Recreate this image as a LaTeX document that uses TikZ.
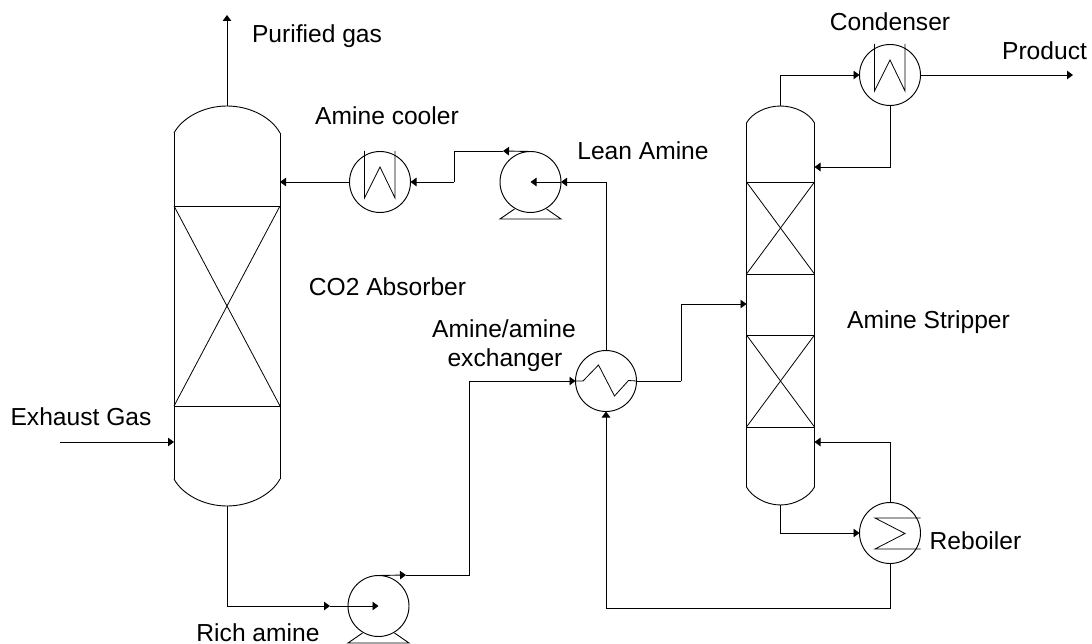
\documentclass[tikz,border=0pt]{standalone}
\usepackage{fontspec}
\setmainfont{Liberation Sans}
\usetikzlibrary{arrows.meta,calc}
\tikzset{
  x=1pt,y=-1pt,
  every path/.style={line width=0.9pt,color=black},
  flow/.style={-{Triangle[length=6pt,width=8.5pt]}},
  unit/.style={circle,draw,line width=0.95pt,minimum size=61pt,inner sep=0pt,outer sep=0pt},
  shell/.style={rectangle,inner sep=0pt,outer sep=0pt},
  packing/.style={rectangle,draw,line width=0.9pt,inner sep=0pt,outer sep=0pt},
  tag/.style={font=\fontsize{24.6}{29}\selectfont,inner sep=0pt,outer sep=0pt,text=black,anchor=base},
  thin part/.style={line width=0.8pt}
}
\newcommand{\vesselbody}[3]{% name, head height, shoulder offset
  \draw (#1.north west) -- (#1.south west);
  \draw (#1.north east) -- (#1.south east);
  \draw (#1.north west) .. controls +(#3,-#2*0.55) and +(-#3*3,0) .. (#1top);
  \draw (#1.north east) .. controls +(-#3,-#2*0.55) and +(#3*3,0) .. (#1top);
  \draw (#1.south west) .. controls +(#3,#2*0.55) and +(-#3*3,0) .. (#1bot);
  \draw (#1.south east) .. controls +(-#3,#2*0.55) and +(#3*3,0) .. (#1bot);
}
\newcommand{\packcross}[1]{%
  \draw[thin part] (#1.north west) -- (#1.south east);
  \draw[thin part] (#1.north east) -- (#1.south west);
}
\newcommand{\pumpfeet}[1]{%
  \draw ($(#1)+(-16,27)$) -- ($(#1)+(-30.5,37)$) -- ($(#1)+(30.5,37)$) -- ($(#1)+(16,27)$);
}
\newcommand{\coolercoil}[1]{%
  \draw[thin part] ($(#1)+(-15.5,-31)$) -- ($(#1)+(-15.5,16)$) -- ($(#1)+(0,-15)$) -- ($(#1)+(15,16)$) -- ($(#1)+(15,-31)$);
}
\begin{document}
\begin{tikzpicture}
\useasboundingbox (0,0) rectangle (1092,644);

% vessels
\node[shell,minimum width=106pt,minimum height=346pt] (abs) at (227,306) {};
\coordinate (abstop) at (227,106);
\coordinate (absbot) at (227,506);
\vesselbody{abs}{27}{8}
\node[packing,minimum width=106pt,minimum height=200pt] (abspack) at (227,306) {};
\packcross{abspack}

\node[shell,minimum width=68pt,minimum height=364pt] (str) at (780.5,305) {};
\coordinate (strtop) at (780.5,106);
\coordinate (strbot) at (780.5,505);
\vesselbody{str}{17}{5}
\node[packing,minimum width=68pt,minimum height=92pt] (strpackA) at (780.5,228) {};
\packcross{strpackA}
\node[packing,minimum width=68pt,minimum height=92pt] (strpackB) at (780.5,381) {};
\packcross{strpackB}

% rotating and heat-transfer units
\node[unit] (cooler) at (380,182) {};
\coolercoil{cooler}
\node[unit] (leanpump) at (530.5,182) {};
\pumpfeet{leanpump}
\node[unit] (richpump) at (378.5,606) {};
\pumpfeet{richpump}
\node[unit] (exch) at (606,381) {};
\draw[thin part] (exch.west) -- ++(7.5,0) -- ++(15.5,-16) -- ++(16,31) -- ++(14,-15.5) -- (exch.east);
\node[unit] (cond) at (890,75) {};
\coolercoil{cond}
\node[unit] (reb) at (890,533) {};
\draw[thin part] ($(reb)+(30.5,-15)$) -- ($(reb)+(-15,-15)$) -- ($(reb)+(15,0.5)$) -- ($(reb)+(-15,16)$) -- ($(reb)+(30.5,16)$);

% free ends and junctions
\coordinate (gasout) at (227,15);
\coordinate (gasin) at (60,442);
\coordinate (gasinlet) at (174,442);
\coordinate (richmid) at (330,606);
\coordinate (richout) at (406,575);
\coordinate (richbend) at (469,381);
\coordinate (leanmid) at (561,182);
\coordinate (leantop) at (503,151);
\coordinate (leanbendA) at (454,151);
\coordinate (leanbendB) at (454,182);
\coordinate (hotbend) at (681,381);
\coordinate (product) at (1073,75);
\coordinate (strfeed) at (746.5,304);
\coordinate (reflux) at (814.5,167);
\coordinate (boilup) at (814.5,442);
\coordinate (rebbend) at (890,608);

% connectors
\draw[flow] (abstop) -- (gasout);
\draw[flow] (gasin) -- (gasinlet);
\draw[flow] (absbot) |- (richmid);
\draw[flow] (richmid) -- (richpump.center);
\draw[flow] (richpump.north) -- (richout);
\draw (richout) -| (richbend);
\draw[flow] (richbend) -- (exch.west);
\draw (exch.east) -- (hotbend);
\draw[flow] (hotbend) |- (strfeed);
\draw[flow] (exch.north) |- (leanmid);
\draw[flow] (leanmid) -- (leanpump.center);
\draw[flow] (leanpump.north) -- (leantop);
\draw (leantop) -- (leanbendA) -- (leanbendB);
\draw[flow] (leanbendB) -- (cooler.east);
\draw[flow] (cooler.west) -- (abs.east |- cooler.west);
\draw[flow] (strtop) |- (cond.west);
\draw[flow] (cond.east) -- (product);
\draw[flow] (cond.south) |- (reflux);
\draw[flow] (reb.north) |- (boilup);
\draw[flow] (strbot) |- (reb.west);
\draw[flow] (reb.south) -- (rebbend) -| (exch.south);

% labels
\node[tag] (lbpur) at (317,43) {Purified gas};
\node[tag] (lbcool) at (387,125) {Amine cooler};
\node[tag] (lblean) at (643,160) {Lean Amine};
\node[tag] (lbco) at (387.5,296) {CO2 Absorber};
\node[tag] (lbam) at (504,337) {Amine/amine};
\node[tag] (lbex) at (505,366) {exchanger};
\node[tag] (lbexh) at (81,425) {Exhaust Gas};
\node[tag] (lbrich) at (258,641) {Rich amine};
\node[tag] (lbcon) at (890,31) {Condenser};
\node[tag] (lbpro) at (1044.5,60) {Product};
\node[tag] (lbstr) at (928.5,328) {Amine Stripper};
\node[tag] (lbreb) at (975.5,549) {Reboiler};
\end{tikzpicture}
\end{document}
